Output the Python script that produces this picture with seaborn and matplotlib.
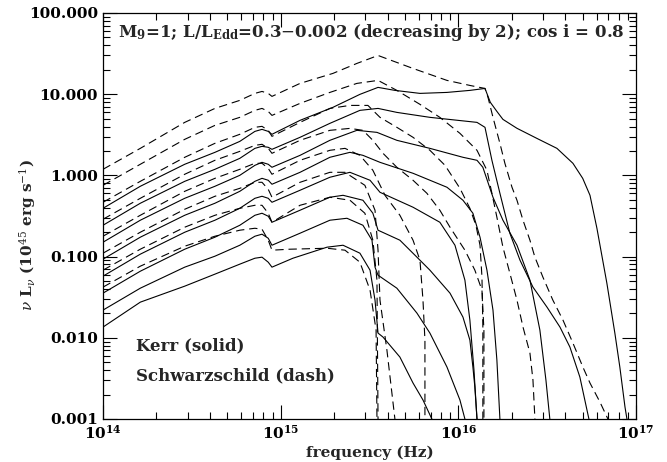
import numpy as np
import pandas as pd
import matplotlib
matplotlib.use("Agg")
import matplotlib.pyplot as plt
import seaborn as sns
from matplotlib.ticker import LogLocator, FuncFormatter, NullFormatter

# Spectra of accretion discs around a 1e9 Msun black hole, cos i = 0.8.
# All values are log10: frequency in Hz, nu L_nu in 1e45 erg/s.
L_EDD = [0.3, 0.15, 0.075, 0.0375, 0.01875, 0.009375, 0.0046875, 0.00234375]

# common low-frequency sampling (up to the Balmer edge)
LOW_NU = [14.0, 14.21, 14.46, 14.63, 14.77, 14.855, 14.895, 14.93, 14.951]

# ---- Kerr (solid) ----
kerr_1_nu = LOW_NU + [15.109, 15.294, 15.446, 15.548, 15.643, 15.784, 15.936, 16.065, 16.150, 16.180, 16.217, 16.251,
                      16.330, 16.442, 16.555, 16.645, 16.70, 16.741, 16.780, 16.836, 16.881, 16.909, 16.938, 16.949]
kerr_1_L = [-0.405, -0.134, 0.137, 0.284, 0.419, 0.542, 0.567, 0.542, 0.506,
            0.678, 0.838, 0.998, 1.084, 1.047, 1.010, 1.022, 1.047, 1.071, 0.900, 0.788, 0.690,
            0.580, 0.456, 0.333, 0.149, -0.036, -0.245, -0.651, -1.327, -1.942, -2.360, -2.852, -3.0]

kerr_2_nu = LOW_NU + [15.109, 15.277, 15.446, 15.548, 15.654, 15.840, 16.105, 16.150, 16.189, 16.234, 16.290, 16.347,
                      16.420, 16.499, 16.572, 16.628, 16.684, 16.724, 16.735]
kerr_2_L = [-0.614, -0.343, -0.073, 0.075, 0.210, 0.333, 0.358, 0.346, 0.321,
            0.469, 0.641, 0.801, 0.825, 0.776, 0.715, 0.653, 0.592, 0.186, -0.220, -0.712, -1.044,
            -1.376, -1.622, -1.868, -2.114, -2.483, -2.889, -3.0]

kerr_3_nu = LOW_NU + [15.109, 15.277, 15.429, 15.542, 15.654, 15.840, 16.026, 16.105, 16.138, 16.195, 16.251, 16.330,
                      16.403, 16.459, 16.493, 16.515]
kerr_3_L = [-0.823, -0.552, -0.282, -0.134, 0.001, 0.124, 0.161, 0.137, 0.100,
            0.247, 0.432, 0.555, 0.530, 0.432, 0.333, 0.223, 0.186, 0.100, -0.269, -0.552, -0.860,
            -1.290, -1.905, -2.520, -3.0]

kerr_4_nu = LOW_NU + [15.109, 15.277, 15.390, 15.463, 15.559, 15.745, 15.936, 16.026, 16.082, 16.122, 16.161, 16.195,
                      16.217, 16.234]
kerr_4_L = [-1.032, -0.761, -0.491, -0.343, -0.196, -0.073, -0.036, -0.060, -0.109,
            0.038, 0.223, 0.284, 0.247, 0.161, 0.026, -0.146, -0.306, -0.466, -0.761, -1.167, -1.659,
            -2.274, -3.0]

kerr_5_nu = LOW_NU + [15.109, 15.277, 15.390, 15.503, 15.559, 15.745, 15.896, 15.981, 16.037, 16.065, 16.088, 16.105]
kerr_5_L = [-1.241, -0.970, -0.700, -0.552, -0.405, -0.282, -0.257, -0.282, -0.331,
            -0.183, -0.023, 0.038, -0.060, -0.208, -0.392, -0.577, -0.860, -1.290, -1.782, -2.397, -3.0]

kerr_6_nu = LOW_NU + [15.109, 15.277, 15.351, 15.463, 15.519, 15.548, 15.671, 15.767, 15.840, 15.953, 16.026, 16.065,
                      16.082, 16.093, 16.105]
kerr_6_L = [-1.450, -1.180, -0.909, -0.761, -0.614, -0.491, -0.466, -0.503, -0.577,
            -0.429, -0.269, -0.245, -0.306, -0.466, -0.675, -0.798, -1.007, -1.167, -1.450, -1.745, -2.028,
            -2.360, -2.606, -3.0]

kerr_7_nu = LOW_NU + [15.109, 15.277, 15.373, 15.463, 15.514, 15.531, 15.548, 15.654, 15.767, 15.840, 15.936, 16.009,
                      16.037]
kerr_7_L = [-1.659, -1.389, -1.130, -0.995, -0.860, -0.749, -0.724, -0.774, -0.860,
            -0.712, -0.552, -0.528, -0.614, -0.798, -1.130, -1.229, -1.389, -1.696, -1.942, -2.360, -2.766, -3.0]

kerr_8_nu = LOW_NU + [15.069, 15.261, 15.351, 15.446, 15.503, 15.531, 15.548, 15.576, 15.671, 15.745, 15.801, 15.851]
kerr_8_L = [-1.868, -1.561, -1.364, -1.216, -1.093, -1.020, -1.007, -1.069, -1.130,
            -1.020, -0.884, -0.860, -0.958, -1.167, -1.536, -1.942, -1.991, -2.237, -2.557, -2.766, -3.0]

# ---- Schwarzschild (dashed) ----
schw_1_nu = LOW_NU + [15.109, 15.294, 15.429, 15.548, 15.745, 15.936, 16.065, 16.150, 16.167, 16.195, 16.234, 16.262,
                      16.302, 16.330, 16.364, 16.403, 16.431, 16.476, 16.532, 16.589, 16.645, 16.701, 16.741, 16.797,
                      16.842]
schw_1_L = [0.075, 0.333, 0.653, 0.825, 0.924, 1.010, 1.034, 1.010, 0.973,
            1.133, 1.256, 1.379, 1.477, 1.317, 1.170, 1.108, 1.071, 0.961, 0.715, 0.395, 0.149,
            -0.146, -0.306, -0.552, -0.798, -1.007, -1.253, -1.536, -1.782, -2.065, -2.360, -2.557, -2.791,
            -3.0]

schw_2_nu = LOW_NU + [15.109, 15.277, 15.429, 15.548, 15.654, 15.784, 15.896, 16.009, 16.105, 16.161, 16.189, 16.217,
                      16.251, 16.290, 16.330, 16.364, 16.403, 16.420, 16.431]
schw_2_L = [-0.122, 0.137, 0.444, 0.616, 0.715, 0.801, 0.825, 0.788, 0.739,
            0.887, 1.022, 1.133, 1.170, 1.047, 0.875, 0.715, 0.518, 0.309, 0.063, -0.220, -0.515,
            -0.884, -1.204, -1.536, -1.868, -2.188, -2.520, -3.0]

schw_3_nu = LOW_NU + [15.109, 15.277, 15.390, 15.491, 15.559, 15.654, 15.745, 15.840, 15.925, 16.009, 16.065, 16.099,
                      16.122, 16.133, 16.138, 16.138]
schw_3_L = [-0.331, -0.073, 0.223, 0.395, 0.506, 0.592, 0.604, 0.555, 0.481,
            0.653, 0.825, 0.862, 0.862, 0.715, 0.592, 0.469, 0.309, 0.124, -0.159, -0.405, -0.614,
            -0.860, -1.253, -1.868, -3.0]

schw_4_nu = LOW_NU + [15.109, 15.277, 15.390, 15.463, 15.519, 15.576, 15.654, 15.745, 15.823, 15.896, 15.953, 16.037,
                      16.093, 16.133, 16.144, 16.144]
schw_4_L = [-0.540, -0.282, 0.014, 0.186, 0.296, 0.370, 0.383, 0.333, 0.272,
            0.432, 0.555, 0.579, 0.555, 0.432, 0.272, 0.100, -0.060, -0.220, -0.429, -0.638, -0.921,
            -1.167, -1.413, -1.905, -3.0]

schw_5_nu = LOW_NU + [15.109, 15.277, 15.362, 15.446, 15.519, 15.587, 15.671, 15.745, 15.784, 15.801, 15.812, 15.812]
schw_5_L = [-0.749, -0.491, -0.196, -0.036, 0.075, 0.149, 0.149, 0.087, 0.014,
            0.186, 0.309, 0.333, 0.247, 0.063, -0.245, -0.491, -0.798, -1.044, -1.536, -2.028, -3.0]

schw_6_nu = LOW_NU + [15.109, 15.277, 15.362, 15.474, 15.531, 15.548, 15.559, 15.598, 15.643]
schw_6_L = [-0.958, -0.700, -0.417, -0.257, -0.159, -0.085, -0.085, -0.171, -0.269,
            -0.085, 0.038, 0.038, -0.122, -0.429, -0.921, -1.536, -2.151, -3.0]

schw_7_nu = LOW_NU + [15.109, 15.277, 15.390, 15.474, 15.519, 15.542, 15.548]
schw_7_L = [-1.167, -0.909, -0.638, -0.491, -0.405, -0.368, -0.368, -0.466, -0.577,
            -0.368, -0.269, -0.306, -0.466, -0.798, -1.290, -3.0]

schw_8_nu = LOW_NU + [15.052, 15.261, 15.362, 15.446, 15.503, 15.537, 15.542]
schw_8_L = [-1.376, -1.118, -0.872, -0.749, -0.675, -0.651, -0.663, -0.798, -0.921,
            -0.909, -0.897, -0.921, -1.069, -1.413, -1.905, -3.0]

kerr = [(kerr_1_nu, kerr_1_L), (kerr_2_nu, kerr_2_L), (kerr_3_nu, kerr_3_L), (kerr_4_nu, kerr_4_L),
        (kerr_5_nu, kerr_5_L), (kerr_6_nu, kerr_6_L), (kerr_7_nu, kerr_7_L), (kerr_8_nu, kerr_8_L)]
schw = [(schw_1_nu, schw_1_L), (schw_2_nu, schw_2_L), (schw_3_nu, schw_3_L), (schw_4_nu, schw_4_L),
        (schw_5_nu, schw_5_L), (schw_6_nu, schw_6_L), (schw_7_nu, schw_7_L), (schw_8_nu, schw_8_L)]

rows = []
for metric, family in (("Kerr", kerr), ("Schwarzschild", schw)):
    for ledd, (lnu, lL) in zip(L_EDD, family):
        for i, (a, b) in enumerate(zip(lnu, lL)):
            rows.append({"nu": 10 ** a, "L": 10 ** b, "metric": metric,
                         "curve": f"{metric} {ledd:g}", "order": i})
df = pd.DataFrame(rows)

sns.set_style("ticks")
plt.rcParams["font.family"] = ["DejaVu Serif"]
plt.rcParams["mathtext.fontset"] = "dejavuserif"
plt.rcParams["lines.scale_dashes"] = False

fig = plt.figure(figsize=(6.67, 4.62), dpi=100)
ax = fig.add_axes([103 / 667, 1 - 419 / 462, 533 / 667, 406 / 462])

sns.lineplot(data=df, x="nu", y="L", units="curve", style="metric", estimator=None, sort=False,
             color="black", linewidth=0.8, dashes={"Kerr": "", "Schwarzschild": (6, 3.5)},
             legend=False, ax=ax)

ax.set_xscale("log")
ax.set_yscale("log")
ax.set_xlim(1e14, 1e17)
ax.set_ylim(1e-3, 1e2)

ax.xaxis.set_major_locator(LogLocator(base=10, numticks=10))
ax.xaxis.set_minor_locator(LogLocator(base=10, subs=np.arange(2, 10), numticks=20))
ax.yaxis.set_major_locator(LogLocator(base=10, numticks=10))
ax.yaxis.set_minor_locator(LogLocator(base=10, subs=np.arange(2, 10), numticks=20))
ax.yaxis.set_major_formatter(FuncFormatter(lambda v, p: f"{v:.3f}"))
ax.yaxis.set_minor_formatter(NullFormatter())
ax.xaxis.set_minor_formatter(NullFormatter())

ax.tick_params(which="both", direction="in", top=True, right=True, width=0.8, colors="black")
ax.tick_params(which="major", length=10)
ax.tick_params(which="minor", length=5)
ax.tick_params(axis="both", which="major", labelsize=11)
for lab in ax.get_xticklabels() + ax.get_yticklabels():
    lab.set_fontweight("bold")
for s in ax.spines.values():
    s.set_linewidth(0.9)
    s.set_color("black")

ax.set_xlabel("frequency (Hz)", fontsize=11, fontweight="bold", labelpad=3)
ax.set_ylabel(r"$\nu$ L$_\nu$ (10$^{45}$ erg s$^{-1}$)", fontsize=11, fontweight="bold")
ax.yaxis.set_label_coords(-0.122, 0.453)

ax.text(0.028, 0.953, r"M$_\mathbf{9}$=1; L/L$_\mathbf{Edd}$=0.3$-$0.002 (decreasing by 2); cos i = 0.8",
        transform=ax.transAxes, ha="left", va="center", fontsize=12, fontweight="bold")
ax.text(0.062, 0.180, "Kerr (solid)", transform=ax.transAxes, ha="left", va="center",
        fontsize=12, fontweight="bold")
ax.text(0.062, 0.106, "Schwarzschild (dash)", transform=ax.transAxes, ha="left", va="center",
        fontsize=12, fontweight="bold")

fig.savefig("out.png", dpi=100)
